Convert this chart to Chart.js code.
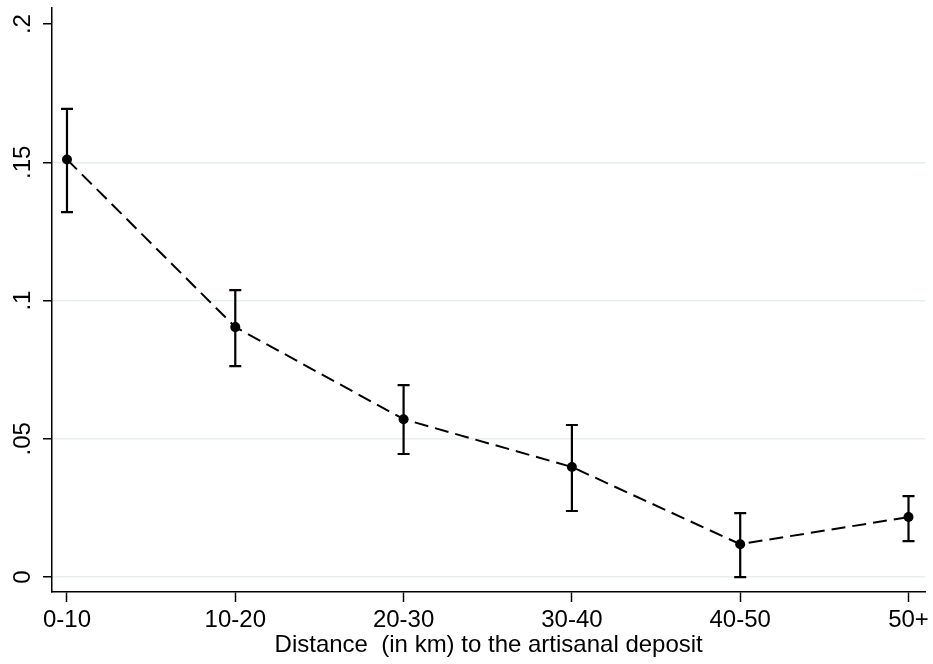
<!DOCTYPE html>
<html>
<head>
<meta charset="utf-8">
<script src="https://cdn.jsdelivr.net/npm/chart.js@4"></script>
<style>
  html, body { margin: 0; padding: 0; background: #fff; }
  #wrap { width: 933px; height: 664px; }
</style>
</head>
<body>
<div id="wrap"><canvas id="distChart"></canvas></div>
<script>
// distance bins and estimates
const categories = ['0-10', '10-20', '20-30', '30-40', '40-50', '50+'];
const means = [0.151, 0.0904, 0.0571, 0.0398, 0.0119, 0.0217];
const upper = [0.1693, 0.1038, 0.0694, 0.055, 0.0231, 0.0293];
const lower = [0.132, 0.0763, 0.0445, 0.0239, 0.0, 0.013];
const yTicks = [0, 0.05, 0.1, 0.15, 0.2];
const yTickLabels = ['0', '.05', '.1', '.15', '.2'];

const FONT = "'Liberation Sans', Arial, sans-serif";

const errorBars = {
    id: 'errorBars',
    afterDatasetsDraw(chart) {
        const ctx = chart.ctx;
        const xs = chart.scales.x, ys = chart.scales.y;
        ctx.save();
        ctx.strokeStyle = '#000';
        ctx.lineWidth = 2.2;
        for (let i = 0; i < means.length; i++) {
            const x = xs.getPixelForValue(i);
            const yHi = ys.getPixelForValue(upper[i]);
            const yLo = ys.getPixelForValue(lower[i]);
            ctx.beginPath();
            ctx.moveTo(x, yHi); ctx.lineTo(x, yLo);
            ctx.moveTo(x - 6, yHi); ctx.lineTo(x + 6, yHi);
            ctx.moveTo(x - 6, yLo); ctx.lineTo(x + 6, yLo);
            ctx.stroke();
        }
        ctx.restore();
    }
};

// y labels read upward, centred on their ticks (Stata style)
const yLabels = {
    id: 'yLabels',
    afterDraw(chart) {
        const ctx = chart.ctx;
        const ys = chart.scales.y;
        ctx.save();
        ctx.fillStyle = '#000';
        ctx.font = '24px ' + FONT;
        ctx.textAlign = 'center';
        ctx.textBaseline = 'middle';
        yTicks.forEach((v, i) => {
            ctx.save();
            ctx.translate(23, ys.getPixelForValue(v));
            ctx.rotate(-Math.PI / 2);
            ctx.fillText(yTickLabels[i], 0, 0);
            ctx.restore();
        });
        ctx.restore();
    }
};

new Chart(document.getElementById('distChart'), {
    type: 'line',
    data: {
        datasets: [{
            data: means.map((v, i) => ({ x: i, y: v })),
            borderColor: '#000',
            borderWidth: 2,
            borderDash: [14, 7],
            pointRadius: 5,
            pointBackgroundColor: '#000',
            pointBorderWidth: 0,
            tension: 0
        }]
    },
    options: {
        responsive: true,
        maintainAspectRatio: false,
        animation: false,
        layout: { padding: { top: 8, right: 7, left: 0, bottom: 0 } },
        plugins: { legend: { display: false }, tooltip: { enabled: false } },
        scales: {
            x: {
                type: 'linear',
                min: -0.089,
                max: 5.1,
                afterBuildTicks: (axis) => { axis.ticks = categories.map((c, i) => ({ value: i })); },
                afterFit: (axis) => { axis.height = 72; },
                ticks: {
                    callback: (v) => categories[v],
                    color: '#000',
                    font: { family: FONT, size: 24 },
                    padding: 4,
                    maxRotation: 0,
                    autoSkip: false
                },
                grid: { drawOnChartArea: false, drawTicks: true, tickLength: 10, tickColor: '#000', tickWidth: 1.5 },
                border: { color: '#000', width: 1.5 },
                title: {
                    display: true,
                    text: 'Distance  (in km) to the artisanal deposit',
                    color: '#000',
                    font: { family: FONT, size: 24 },
                    padding: { top: 0, bottom: 4 }
                }
            },
            y: {
                min: -0.0054,
                max: 0.2058,
                afterBuildTicks: (axis) => { axis.ticks = yTicks.map(v => ({ value: v })); },
                afterFit: (axis) => { axis.width = 52; },
                ticks: { display: false },
                grid: {
                    color: (c) => (c.tick && c.tick.value === 0.2) ? 'rgba(0,0,0,0)' : '#e6eef0',
                    lineWidth: 1.5,
                    tickLength: 9,
                    tickColor: '#000',
                    tickWidth: 1.5
                },
                border: { color: '#000', width: 1.5 }
            }
        }
    },
    plugins: [errorBars, yLabels]
});
</script>
</body>
</html>
